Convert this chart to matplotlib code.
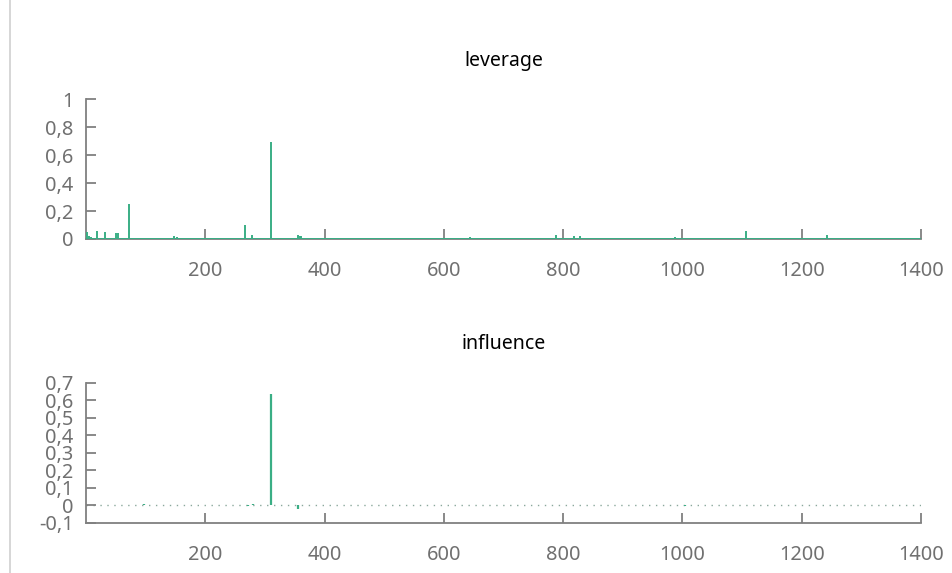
import matplotlib.pyplot as plt
import numpy as np
from matplotlib.lines import Line2D

plt.rcParams['font.family'] = ['Noto Sans', 'DejaVu Sans']

# observations and diagnostics
n_obs = 1400
base_leverage = 0.008  # typical hat value away from the spikes

lev_idx = [2, 5, 8, 18, 32, 51, 53, 72, 148, 153, 267, 279, 310, 355, 359,
           361, 644, 788, 818, 828, 988, 1106, 1242]
lev_val = [0.05, 0.02, 0.015, 0.06, 0.05, 0.04, 0.04, 0.25, 0.02, 0.015, 0.10,
           0.025, 0.69, 0.03, 0.02, 0.02, 0.012, 0.03, 0.02, 0.02, 0.012, 0.057, 0.03]

inf_idx = [97, 272, 280, 310, 355, 990, 1005, 1240]
inf_val = [0.006, -0.004, 0.004, 0.634, -0.025, 0.003, -0.003, 0.003]

x_ticks = [200, 400, 600, 800, 1000, 1200, 1400]
lev_ticks = [0, 0.2, 0.4, 0.6, 0.8, 1]
inf_ticks = [-0.1, 0, 0.1, 0.2, 0.3, 0.4, 0.5, 0.6, 0.7]

obs = np.arange(1, n_obs + 1)
leverage = np.full(n_obs, base_leverage)
leverage[np.array(lev_idx) - 1] = lev_val
influence = np.zeros(n_obs)
influence[np.array(inf_idx) - 1] = inf_val

green = '#3aae85'
gray = '#808080'


def comma(v):
    s = ('%g' % v).replace('.', ',')
    return s


def style_axes(ax, yticks):
    for side in ('top', 'right'):
        ax.spines[side].set_visible(False)
    for side in ('left', 'bottom'):
        ax.spines[side].set_color(gray)
        ax.spines[side].set_linewidth(1.3)
    ax.set_xlim(0, n_obs)
    ax.set_xticks(x_ticks)
    ax.set_xticklabels([str(t) for t in x_ticks])
    ax.set_yticks(yticks)
    ax.set_yticklabels([comma(t) for t in yticks])
    ax.tick_params(axis='both', direction='in', length=7, width=1.3,
                   colors=gray, labelsize=14.4, labelcolor='#707070')
    ax.tick_params(axis='x', pad=16)
    ax.tick_params(axis='y', pad=9)


fig = plt.figure(figsize=(9.53, 5.73), dpi=100)

ax1 = fig.add_axes([0.0902, 0.5829, 0.8762, 0.2443])
ax1.vlines(obs, 0, leverage, color=green, lw=1.4, zorder=3)
ax1.set_ylim(0, 1)
style_axes(ax1, lev_ticks)
ax1.set_title('leverage', fontsize=14, pad=24)

ax2 = fig.add_axes([0.0902, 0.0881, 0.8762, 0.2440])
ax2.axhline(0, color='#8aa89c', lw=1.0, ls=(0, (1, 4)), zorder=1)
ax2.vlines(obs, 0, influence, color=green, lw=1.6, zorder=2)
ax2.set_ylim(-0.1, 0.7)
style_axes(ax2, inf_ticks)
ax2.set_title('influence', fontsize=14, pad=24)

# thin page border on the left
fig.add_artist(Line2D([0.0105, 0.0105], [0, 1], transform=fig.transFigure,
                      color='#d0d0d0', lw=1.2))

fig.savefig('out.png', dpi=100)
